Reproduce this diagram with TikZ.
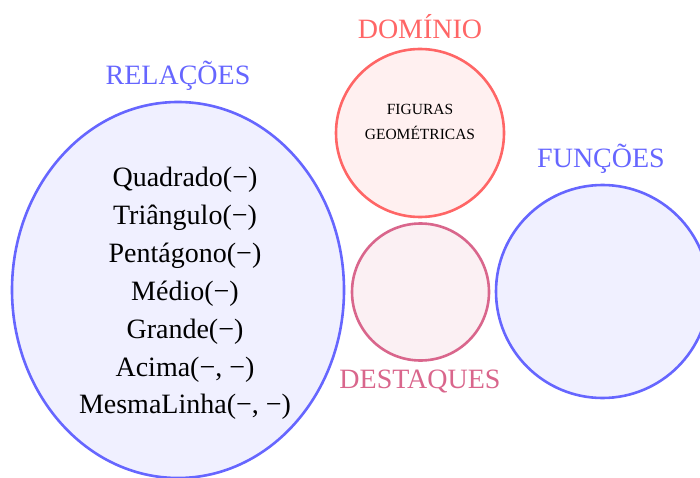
\documentclass[tikz,border=0pt]{standalone}
\usepackage{fontspec}
\setmainfont{Liberation Serif}
\usetikzlibrary{shapes.geometric}
\definecolor{cblue}{HTML}{6666FF}
\definecolor{cred}{HTML}{FF6666}
\definecolor{cpink}{HTML}{D9668C}
\tikzset{
  setlabel/.style={font=\fontsize{28}{30}\selectfont, inner sep=0pt},
  bigset/.style={line width=2.6pt},
  item/.style={font=\fontsize{28}{30}\selectfont, anchor=base, inner sep=0pt},
}
\begin{document}
\begin{tikzpicture}[x=1pt,y=-1pt]
\useasboundingbox (0,0) rectangle (700,478);
% Relacoes
\node[ellipse, bigset, draw=cblue, fill=cblue!10, minimum width=332pt, minimum height=376pt, inner sep=0pt] (rel) at (178,290) {};
\node[setlabel, text=cblue] (rellab) at (178,76) {RELAÇÕES};
\node[item] (r1) at (185,187.0) {Quadrado(−)};
\node[item] (r2) at (185,224.8) {Triângulo(−)};
\node[item] (r3) at (185,262.6) {Pentágono(−)};
\node[item] (r4) at (185,300.4) {Médio(−)};
\node[item] (r5) at (185,338.2) {Grande(−)};
\node[item] (r6) at (185,376.0) {Acima(−, −)};
\node[item] (r7) at (185,413.8) {MesmaLinha(−, −)};
% Dominio
\node[circle, bigset, draw=cred, fill=cred!10, minimum size=168pt, inner sep=0pt] (dom) at (420,133) {};
\node[setlabel, text=cred] (domlab) at (420,27) {DOMÍNIO};
\node[font=\fontsize{15.5}{24.5}\selectfont, align=center, inner sep=0pt] (fig) at (420,122) {FIGURAS\\GEOMÉTRICAS};
% Destaques
\node[circle, bigset, draw=cpink, fill=cpink!10, minimum size=137pt, inner sep=0pt] (dest) at (420.5,292) {};
\node[setlabel, text=cpink] (destlab) at (420,381) {DESTAQUES};
% Funcoes
\node[circle, bigset, draw=cblue, fill=cblue!10, minimum size=213pt, inner sep=0pt] (fun) at (602.5,291.5) {};
\node[setlabel, text=cblue] (funlab) at (601,159) {FUNÇÕES};
\end{tikzpicture}
\end{document}
